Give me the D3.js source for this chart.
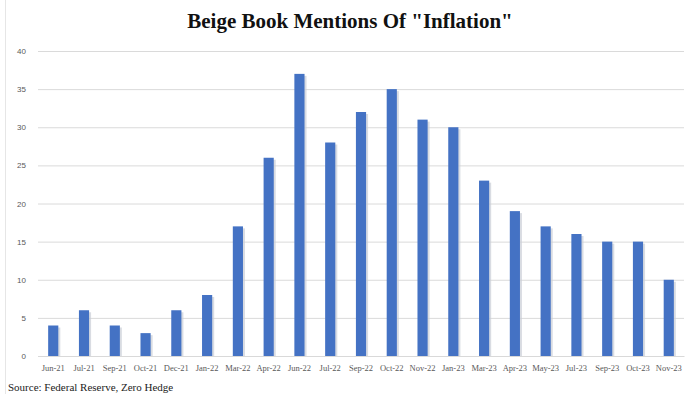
<!DOCTYPE html>
<html lang="en">
<head>
    <meta charset="UTF-8">
    <title>Beige Book Mentions Of "Inflation"</title>
    <script src="https://d3js.org/d3.v7.min.js"></script>
    <style>
        html, body { margin: 0; padding: 0; background: #fff; }
        svg { display: block; }
    </style>
</head>
<body>
    <svg id="chart" width="700" height="394"></svg>

    <script>
        // Beige Book editions and count of "inflation" mentions
        const months = ["Jun-21", "Jul-21", "Sep-21", "Oct-21", "Dec-21", "Jan-22", "Mar-22", "Apr-22",
            "Jun-22", "Jul-22", "Sep-22", "Oct-22", "Nov-22", "Jan-23", "Mar-23", "Apr-23",
            "May-23", "Jul-23", "Sep-23", "Oct-23", "Nov-23"];
        const mentions = [4, 6, 4, 3, 6, 8, 17, 26, 37, 28, 32, 35, 31, 30, 23, 19, 17, 16, 15, 15, 10];
        const yTicks = [0, 5, 10, 15, 20, 25, 30, 35, 40];

        const data = months.map((m, i) => ({ month: m, value: mentions[i] }));

        const svg = d3.select("#chart");
        const plotLeft = 38, plotRight = 684, plotTop = 51, plotBottom = 356;

        // thin frame line on the left edge, like the source image
        svg.append("line").attr("x1", 5.5).attr("x2", 5.5).attr("y1", 0).attr("y2", 394)
            .attr("stroke", "#e6e6e6");

        svg.append("text").attr("x", 350).attr("y", 28).attr("text-anchor", "middle")
            .attr("font-family", "'Liberation Serif', 'DejaVu Serif', serif").attr("font-weight", "bold")
            .attr("font-size", 21).attr("fill", "#111")
            .text('Beige Book Mentions Of  "Inflation"');

        const x = d3.scaleBand().domain(months).range([plotLeft, plotRight]).paddingInner(0.67).paddingOuter(0.33);
        const y = d3.scaleLinear().domain([0, 40]).range([plotBottom, plotTop]);

        // gridlines + y labels
        const yAxis = svg.append("g").attr("transform", `translate(${plotLeft},0)`)
            .call(d3.axisLeft(y).tickValues(yTicks).tickSize(-(plotRight - plotLeft)).tickPadding(12));
        yAxis.select(".domain").remove();
        yAxis.selectAll(".tick line").attr("stroke", "#dadada");
        yAxis.selectAll(".tick text").attr("font-family", "'Liberation Sans', sans-serif")
            .attr("font-size", 8).attr("fill", "#595959");

        // shadow behind bars
        svg.append("g").selectAll("rect").data(data).enter().append("rect")
            .attr("x", d => x(d.month) + 2).attr("y", d => y(d.value) + 2)
            .attr("width", x.bandwidth()).attr("height", d => plotBottom - y(d.value) - 2)
            .attr("fill", "#c9cdd6").attr("opacity", 0.7);

        svg.append("g").selectAll("rect").data(data).enter().append("rect")
            .attr("x", d => x(d.month)).attr("y", d => y(d.value))
            .attr("width", x.bandwidth()).attr("height", d => plotBottom - y(d.value))
            .attr("fill", "#4472c4");

        // x axis
        const xAxis = svg.append("g").attr("transform", `translate(0,${plotBottom})`)
            .call(d3.axisBottom(x).tickSize(0).tickPadding(9));
        xAxis.select(".domain").attr("stroke", "#d9d9d9");
        xAxis.selectAll(".tick text").attr("font-family", "'Liberation Serif', serif")
            .attr("font-size", 8.5).attr("fill", "#595959");

        // source line at the bottom edge
        svg.append("text").attr("x", 8).attr("y", 391)
            .attr("font-family", "'Liberation Serif', serif").attr("font-size", 11).attr("fill", "#222")
            .text("Source: Federal Reserve, Zero Hedge");
    </script>
</body>
</html>
